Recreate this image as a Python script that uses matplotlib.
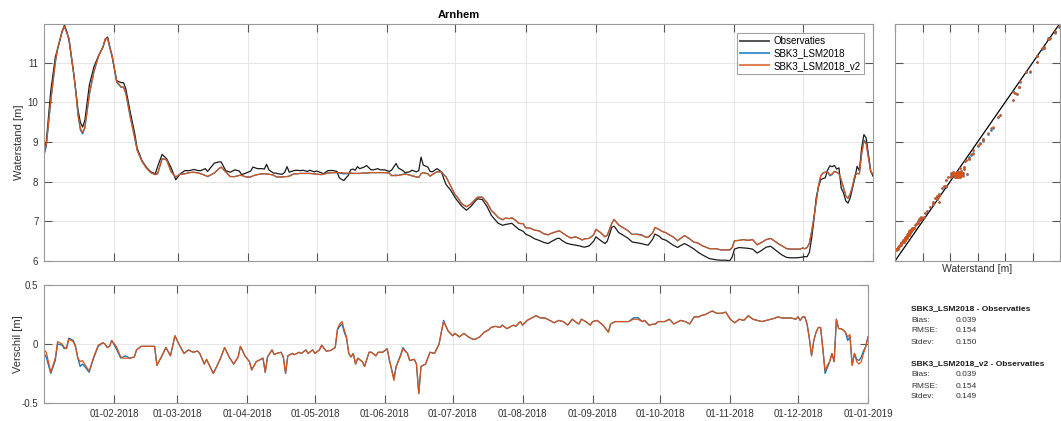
import datetime as dt
import numpy as np
import matplotlib
matplotlib.use("Agg")
import matplotlib.pyplot as plt
import matplotlib.dates as mdates

plt.rcParams['font.family'] = ['Liberation Sans', 'DejaVu Sans']

station = "Arnhem"
start = dt.datetime(2018, 1, 1)
series_names = ["Observaties", "SBK3_LSM2018", "SBK3_LSM2018_v2"]

# day number since 1 Jan 2018
day = [
    0, 1, 3, 5, 6, 8, 9, 10, 11, 13,
    14, 15, 16, 17, 18, 20, 22, 24, 26, 27,
    28, 29, 30, 32, 34, 35, 36, 38, 40, 41,
    43, 45, 47, 49, 50, 52, 54, 56, 58, 60,
    62, 64, 66, 68, 69, 71, 72, 75, 77, 78,
    80, 82, 84, 86, 87, 89, 91, 92, 94, 96,
    97, 98, 99, 101, 102, 103, 105, 106, 107, 108,
    110, 111, 113, 114, 116, 117, 119, 120, 122, 123,
    125, 127, 129, 130, 131, 132, 133, 134, 135, 136,
    137, 138, 139, 141, 142, 144, 145, 147, 148, 150,
    152, 153, 155, 156, 158, 159, 161, 162, 164, 165,
    166, 167, 169, 170, 171, 173, 175, 176, 177, 179,
    181, 182, 184, 186, 188, 190, 191, 193, 195, 197,
    198, 200, 202, 203, 205, 206, 208, 209, 211, 212,
    214, 216, 218, 220, 222, 223, 225, 226, 227, 228,
    230, 232, 234, 236, 237, 238, 240, 242, 243, 245,
    247, 248, 250, 251, 253, 255, 257, 259, 261, 263,
    265, 266, 268, 269, 271, 272, 274, 275, 277, 279,
    280, 282, 284, 286, 288, 290, 291, 293, 294, 296,
    298, 300, 302, 303, 304, 306, 308, 310, 312, 314,
    316, 318, 320, 322, 324, 325, 327, 329, 331, 333,
    334, 335, 336, 337, 338, 339, 340, 341, 342, 343,
    344, 345, 346, 347, 348, 349, 350, 351, 352, 353,
    354, 355, 356, 357, 358, 359, 360, 361, 362, 363,
    364, 365,
]

# computed water level SBK3_LSM2018_v2 [m]
level_v2 = [
    8.70, 8.93, 10.06, 11.03, 11.37, 11.80, 11.92, 11.76, 11.61, 10.77,
    10.27, 9.68, 9.35, 9.24, 9.38, 10.22, 10.79, 11.17, 11.41, 11.60,
    11.62, 11.38, 11.18, 10.53, 10.39, 10.38, 10.23, 9.63, 9.09, 8.80,
    8.53, 8.35, 8.23, 8.18, 8.20, 8.58, 8.55, 8.25, 8.12, 8.19,
    8.20, 8.23, 8.24, 8.22, 8.20, 8.16, 8.13, 8.22, 8.33, 8.37,
    8.25, 8.13, 8.13, 8.16, 8.16, 8.12, 8.12, 8.15, 8.18, 8.20,
    8.20, 8.20, 8.19, 8.17, 8.13, 8.12, 8.12, 8.13, 8.13, 8.14,
    8.20, 8.20, 8.21, 8.21, 8.21, 8.21, 8.20, 8.19, 8.18, 8.19,
    8.22, 8.23, 8.23, 8.23, 8.23, 8.22, 8.22, 8.22, 8.22, 8.21,
    8.21, 8.21, 8.21, 8.22, 8.22, 8.23, 8.23, 8.23, 8.23, 8.23,
    8.22, 8.16, 8.15, 8.16, 8.18, 8.19, 8.17, 8.15, 8.12, 8.11,
    8.20, 8.23, 8.20, 8.14, 8.18, 8.25, 8.25, 8.18, 8.12, 7.90,
    7.67, 7.61, 7.44, 7.37, 7.44, 7.56, 7.61, 7.61, 7.48, 7.27,
    7.22, 7.10, 7.04, 7.08, 7.07, 7.09, 7.01, 6.95, 6.94, 6.84,
    6.83, 6.78, 6.76, 6.69, 6.66, 6.69, 6.73, 6.75, 6.76, 6.72,
    6.64, 6.58, 6.61, 6.56, 6.53, 6.56, 6.57, 6.66, 6.80, 6.72,
    6.61, 6.65, 6.95, 7.05, 6.91, 6.84, 6.77, 6.67, 6.67, 6.65,
    6.60, 6.60, 6.71, 6.845, 6.79, 6.75, 6.71, 6.67, 6.61, 6.51,
    6.56, 6.64, 6.57, 6.48, 6.45, 6.38, 6.36, 6.31, 6.31, 6.31,
    6.28, 6.28, 6.28, 6.34, 6.51, 6.52, 6.54, 6.52, 6.54, 6.41,
    6.47, 6.54, 6.57, 6.49, 6.41, 6.38, 6.31, 6.30, 6.30, 6.30,
    6.33, 6.31, 6.34, 6.45, 6.75, 7.10, 7.50, 7.90, 8.15, 8.22,
    8.24, 8.25, 8.17, 8.20, 8.26, 8.24, 8.20, 8.05, 7.85, 7.65,
    7.58, 7.70, 7.90, 8.17, 8.21, 8.20, 8.70, 9.02, 8.95, 8.60,
    8.25, 8.20,
]

# model minus observation [m], SBK3_LSM2018
diff_v1 = [
    -0.08, -0.11, -0.25, -0.14, 0.00, -0.01, -0.04, -0.03, 0.05, 0.03,
    -0.02, -0.12, -0.19, -0.17, -0.19, -0.24, -0.12, -0.02, 0.01, 0.00,
    -0.03, -0.02, 0.03, -0.04, -0.12, -0.11, -0.10, -0.12, -0.11, -0.05,
    -0.02, -0.02, -0.02, -0.02, -0.18, -0.11, -0.03, -0.10, 0.07, -0.01,
    -0.08, -0.05, -0.07, -0.06, -0.08, -0.17, -0.13, -0.25, -0.17, -0.13,
    -0.03, -0.11, -0.17, -0.11, -0.02, -0.10, -0.15, -0.22, -0.15, -0.13,
    -0.12, -0.24, -0.11, -0.05, -0.09, -0.08, -0.07, -0.11, -0.25, -0.10,
    -0.08, -0.09, -0.07, -0.08, -0.05, -0.08, -0.05, -0.08, -0.05, -0.01,
    -0.06, -0.055, -0.03, 0.12, 0.15, 0.17, 0.10, 0.05, -0.08, -0.11,
    -0.08, -0.17, -0.12, -0.15, -0.19, -0.07, -0.07, -0.10, -0.07, -0.07,
    -0.04, -0.14, -0.29, -0.19, -0.09, -0.03, -0.08, -0.14, -0.13, -0.17,
    -0.42, -0.19, -0.17, -0.12, -0.07, -0.08, 0.00, 0.10, 0.20, 0.11,
    0.07, 0.09, 0.06, 0.09, 0.06, 0.04, 0.04, 0.06, 0.10, 0.12,
    0.14, 0.15, 0.14, 0.16, 0.13, 0.14, 0.16, 0.15, 0.19, 0.16,
    0.20, 0.22, 0.24, 0.22, 0.22, 0.21, 0.19, 0.18, 0.19, 0.20,
    0.19, 0.16, 0.21, 0.18, 0.17, 0.21, 0.19, 0.16, 0.19, 0.20,
    0.17, 0.15, 0.10, 0.17, 0.19, 0.19, 0.19, 0.19, 0.22, 0.225,
    0.19, 0.20, 0.16, 0.165, 0.17, 0.19, 0.19, 0.19, 0.21, 0.17,
    0.18, 0.20, 0.19, 0.17, 0.23, 0.23, 0.24, 0.25, 0.26, 0.28,
    0.26, 0.26, 0.27, 0.24, 0.21, 0.18, 0.21, 0.20, 0.24, 0.21,
    0.20, 0.19, 0.20, 0.21, 0.22, 0.23, 0.22, 0.22, 0.22, 0.21,
    0.23, 0.20, 0.23, 0.23, 0.17, 0.05, -0.10, 0.03, 0.10, 0.14,
    0.14, -0.04, -0.25, -0.20, -0.15, -0.08, -0.15, 0.21, 0.13, 0.13,
    0.12, 0.10, 0.03, 0.06, -0.18, -0.08, -0.13, -0.14, -0.11, -0.06,
    -0.02, 0.06,
]

# model minus observation [m], SBK3_LSM2018_v2
diff_v2 = [
    -0.05, -0.07, -0.24, -0.12, 0.02, 0.00, -0.03, -0.04, 0.04, 0.02,
    -0.03, -0.12, -0.15, -0.14, -0.17, -0.23, -0.11, -0.01, 0.01, 0.00,
    -0.03, -0.02, 0.03, -0.02, -0.11, -0.12, -0.12, -0.12, -0.11, -0.05,
    -0.02, -0.02, -0.02, -0.02, -0.18, -0.11, -0.03, -0.10, 0.07, -0.01,
    -0.08, -0.05, -0.07, -0.06, -0.08, -0.17, -0.13, -0.25, -0.17, -0.13,
    -0.03, -0.11, -0.17, -0.11, -0.02, -0.10, -0.15, -0.22, -0.15, -0.13,
    -0.12, -0.24, -0.11, -0.05, -0.09, -0.08, -0.07, -0.11, -0.25, -0.10,
    -0.08, -0.09, -0.07, -0.08, -0.05, -0.08, -0.05, -0.08, -0.05, -0.01,
    -0.06, -0.055, -0.03, 0.13, 0.17, 0.19, 0.12, 0.06, -0.08, -0.11,
    -0.08, -0.17, -0.12, -0.15, -0.19, -0.07, -0.07, -0.10, -0.07, -0.07,
    -0.04, -0.13, -0.31, -0.19, -0.10, -0.04, -0.08, -0.14, -0.13, -0.17,
    -0.42, -0.19, -0.17, -0.12, -0.07, -0.08, 0.00, 0.10, 0.19, 0.11,
    0.07, 0.09, 0.06, 0.09, 0.06, 0.04, 0.04, 0.06, 0.10, 0.12,
    0.14, 0.15, 0.14, 0.16, 0.13, 0.14, 0.16, 0.15, 0.19, 0.16,
    0.20, 0.22, 0.24, 0.22, 0.22, 0.21, 0.19, 0.18, 0.19, 0.20,
    0.19, 0.16, 0.21, 0.18, 0.17, 0.21, 0.19, 0.16, 0.19, 0.20,
    0.17, 0.15, 0.10, 0.17, 0.19, 0.19, 0.19, 0.19, 0.21, 0.21,
    0.19, 0.20, 0.16, 0.165, 0.17, 0.19, 0.19, 0.19, 0.21, 0.17,
    0.18, 0.20, 0.19, 0.17, 0.23, 0.23, 0.24, 0.25, 0.26, 0.28,
    0.26, 0.26, 0.27, 0.24, 0.21, 0.18, 0.21, 0.20, 0.24, 0.21,
    0.20, 0.19, 0.20, 0.21, 0.22, 0.23, 0.22, 0.22, 0.22, 0.21,
    0.23, 0.20, 0.23, 0.23, 0.17, 0.05, -0.10, 0.03, 0.10, 0.14,
    0.14, -0.04, -0.23, -0.18, -0.15, -0.08, -0.15, 0.21, 0.13, 0.13,
    0.12, 0.10, 0.06, 0.08, -0.18, -0.08, -0.15, -0.17, -0.15, -0.08,
    -0.02, 0.06,
]

stats_titles = ["SBK3_LSM2018 - Observaties", "SBK3_LSM2018_v2 - Observaties"]
stats_labels = ["Bias:", "RMSE:", "Stdev:"]
stats_v1 = ["0.039", "0.154", "0.150"]
stats_v2 = ["0.039", "0.154", "0.149"]

t = [start + dt.timedelta(days=d) for d in day]
mod_v2 = np.array(level_v2)
obs = mod_v2 - np.array(diff_v2)
mod_v1 = obs + np.array(diff_v1)

C_OBS = '#1a1a1a'
C_V1 = '#0072BD'
C_V2 = '#D95319'

W, H = 1061, 421
fig = plt.figure(figsize=(W / 100, H / 100), dpi=100)


def box(left, top, right, bottom):
    return [left / W, 1 - bottom / H, (right - left) / W, (bottom - top) / H]


def style(a):
    a.grid(True, color='#e2e2e2', lw=0.6)
    a.set_axisbelow(True)
    for s in a.spines.values():
        s.set_color('#9a9a9a')
        s.set_linewidth(0.8)
    a.tick_params(direction='in', length=5.5, width=0.8, color='#555555',
                  labelsize=7, labelcolor='#333333', top=True, right=True, pad=4)


ax = fig.add_axes(box(44, 24, 873, 261))
axs = fig.add_axes(box(895, 24, 1060, 261))
axd = fig.add_axes(box(44, 285, 868, 403))

month_ticks = [dt.datetime(2018, m, 1) for m in range(2, 13)] + [dt.datetime(2019, 1, 1)]
xlim = (start, dt.datetime(2019, 1, 1))

# --- time series of water level
style(ax)
ax.plot(t, obs, color=C_OBS, lw=0.9, label=series_names[0])
ax.plot(t, mod_v1, color=C_V1, lw=0.9, label=series_names[1])
ax.plot(t, mod_v2, color=C_V2, lw=0.9, label=series_names[2])
ax.set_xlim(*xlim)
ax.set_ylim(6, 11.98)
ax.set_yticks([6, 7, 8, 9, 10, 11])
ax.set_xticks(month_ticks)
ax.tick_params(labelbottom=False)
ax.set_ylabel("Waterstand [m]", fontsize=8, color='#333333')
ax.yaxis.set_label_coords(-0.024, 0.5)
ax.set_title(station, fontsize=8, fontweight='bold', pad=4)
leg = ax.legend(loc='upper right', bbox_to_anchor=(0.989, 0.962), borderaxespad=0,
                fontsize=7, frameon=True, fancybox=False, handlelength=3.0,
                handletextpad=0.4, labelspacing=0.22, borderpad=0.35)
leg.get_frame().set_edgecolor('#8c8c8c')
leg.get_frame().set_linewidth(0.8)
for line in leg.get_lines():
    line.set_linewidth(1.4)
    line.set_alpha(0.75)

# --- scatter of model against observation
style(axs)
axs.plot([6, 12], [6, 12], color='k', lw=0.9)
axs.plot(obs, mod_v1, '.', color=C_V1, ms=3.6, mew=0)
axs.plot(obs, mod_v2, '.', color=C_V2, ms=3.6, mew=0)
axs.set_xlim(6, 12)
axs.set_ylim(6, 11.98)
axs.set_xticks(range(6, 13))
axs.set_yticks(range(6, 12))
axs.tick_params(labelbottom=False, labelleft=False)
axs.set_xlabel("Waterstand [m]", fontsize=7.5, color='#333333', labelpad=2)

# --- difference model - observation
style(axd)
axd.plot(t, diff_v1, color=C_V1, lw=0.9)
axd.plot(t, diff_v2, color=C_V2, lw=0.9)
axd.set_xlim(*xlim)
axd.set_ylim(-0.5, 0.5)
axd.set_yticks([-0.5, 0, 0.5])
axd.set_yticklabels(["-0.5", "0", "0.5"])
axd.set_xticks(month_ticks)
axd.xaxis.set_major_formatter(mdates.DateFormatter('%d-%m-%Y'))
axd.set_ylabel("Verschil [m]", fontsize=8, color='#333333')
axd.yaxis.set_label_coords(-0.0255, 0.5)


# --- statistics
def px(x, y):
    return x / W, 1 - y / H


for title, values, y0 in [(stats_titles[0], stats_v1, 309), (stats_titles[1], stats_v2, 364)]:
    fig.text(*px(911, y0), title, fontsize=6, fontweight='bold', va='center', color='#1a1a1a')
    for i, (lab, val) in enumerate(zip(stats_labels, values)):
        y = y0 + 11 * (i + 1)
        fig.text(*px(911, y), lab, fontsize=6, va='center', color='#333333')
        fig.text(*px(956, y), val, fontsize=6, va='center', color='#333333')

fig.savefig("out.png", dpi=100)
